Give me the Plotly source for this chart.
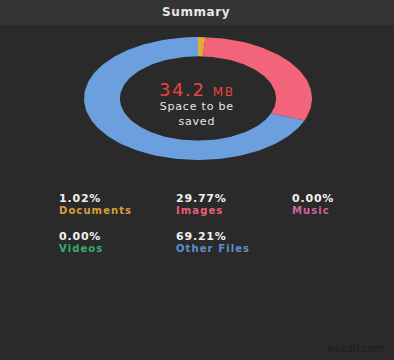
import numpy as np
import plotly.graph_objects as go

categories = ["Documents", "Images", "Music", "Videos", "Other Files"]
percents = [1.02, 29.77, 0.00, 0.00, 69.21]
slice_colors = ["#e2a93b", "#f1647a", "#d95fa0", "#3bb06f", "#6b9fdd"]
label_colors = ["#d39f3a", "#e95f72", "#d7609f", "#39ad6a", "#5f8fcf"]
total_text = "34.2"
unit_text = "MB"
subtitle_lines = ["Space to be", "saved"]

W, H = 394, 360
cx, cy = 198, 98.5      # donut centre in pixels
rx, ry = 114, 61.5      # outer radii in pixels
hole = 0.685

fig = go.Figure()

tot = sum(percents)
start = 0.0
for name, p, col in zip(categories, percents, slice_colors):
    if p <= 0:
        continue
    a0 = start / tot * 2 * np.pi
    a1 = (start + p) / tot * 2 * np.pi
    start += p
    t = np.linspace(a0, a1, max(4, int(200 * p / tot) + 2))
    xs = np.concatenate([np.sin(t), hole * np.sin(t[::-1])])
    ys = np.concatenate([np.cos(t), hole * np.cos(t[::-1])])
    fig.add_trace(go.Scatter(x=xs, y=ys, fill="toself", fillcolor=col,
                             mode="lines", line=dict(width=0, color=col),
                             hoverinfo="skip", showlegend=False))

fig.update_xaxes(range=[(0 - cx) / rx, (W - cx) / rx], visible=False,
                 domain=[0, 1], fixedrange=True)
fig.update_yaxes(range=[(cy - H) / ry, (cy - 0) / ry], visible=False,
                 domain=[0, 1], fixedrange=True)

def px(x):
    return x / W

def py(y):
    return 1 - y / H

font = "DejaVu Sans, sans-serif"
ann = []
def add(x, y, text, size, color, xanchor="center", ls=1.0):
    ann.append(dict(x=px(x), y=py(y), xref="paper", yref="paper",
                    text=f"<span style='letter-spacing:{ls}px'>{text}</span>",
                    showarrow=False, font=dict(family=font, size=size, color=color),
                    xanchor=xanchor, yanchor="middle"))

add(196, 12, "<b>Summary</b>", 12, "#e6e6e6", ls=0.6)
center = (f"<span style='font-size:18px;color:#e8453f;letter-spacing:1.6px'>{total_text} "
          f"<span style='font-size:12px'>{unit_text}</span></span><br>"
          + "<br>".join(subtitle_lines))
add(197, 103, center, 11, "#e6e6e6", ls=0.8)

col_x = [57, 174, 290]
row_y = [198, 236]
for i, (name, p, lc) in enumerate(zip(categories, percents, label_colors)):
    r, c = divmod(i, 3)
    x = col_x[c]
    y = row_y[r]
    add(x, y, f"<b>{p:.2f}%</b>", 11, "#f0f0f0", "left", ls=0.8)
    add(x, y + 12, f"<b>{name}</b>", 10, lc, "left", ls=1.1)

add(355, 348, "wsxdn.com", 10, "#1c1c1c", ls=0)

fig.update_layout(
    width=W, height=H,
    margin=dict(l=0, r=0, t=0, b=0),
    paper_bgcolor="#2a2a2a", plot_bgcolor="#2a2a2a",
    annotations=ann,
    shapes=[dict(type="rect", xref="paper", yref="paper", x0=0, x1=1,
                 y0=py(25), y1=1, fillcolor="#343434", line=dict(width=0),
                 layer="below")],
)

fig.write_html("out.html", config={"displayModeBar": False})
